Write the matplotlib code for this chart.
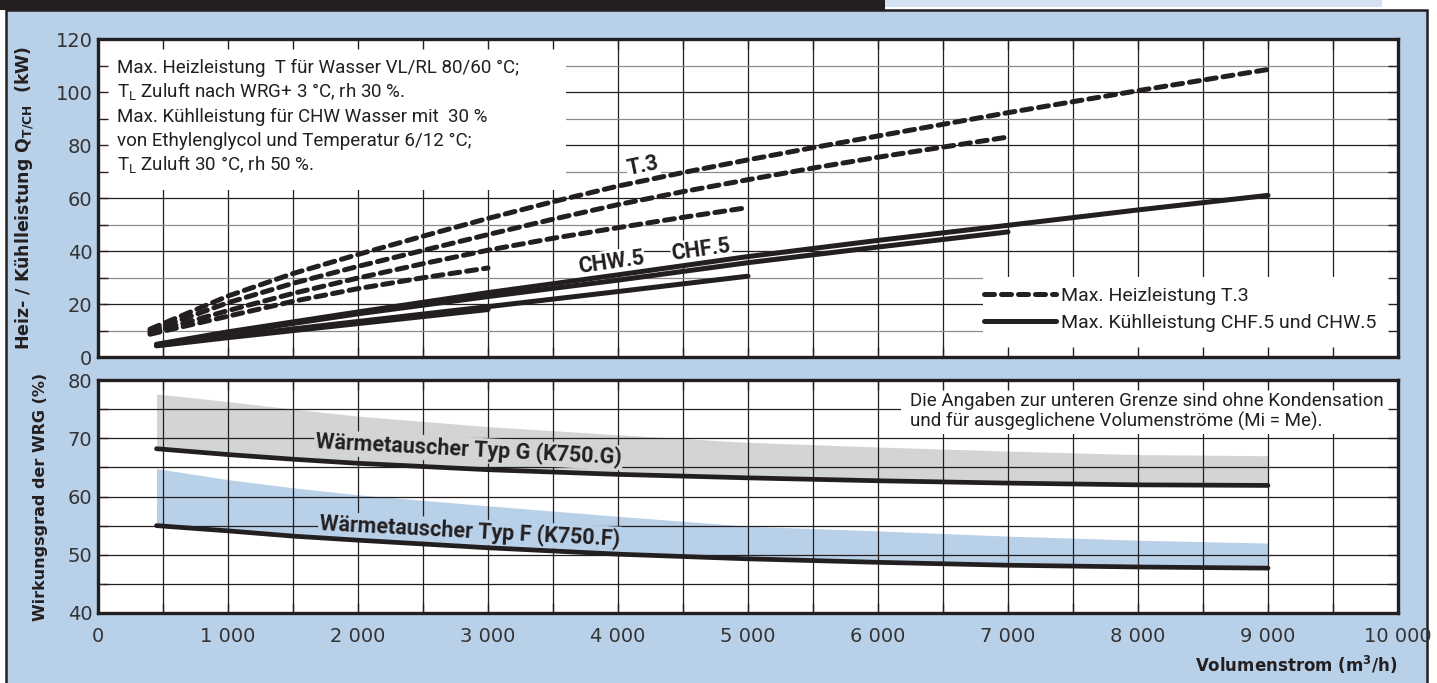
import matplotlib
matplotlib.use("Agg")
import matplotlib.pyplot as plt
from matplotlib.lines import Line2D
from matplotlib.patches import Rectangle
import numpy as np

# --- upper panel: max. heating (T.3, dashed) and cooling (CHF/CHW, solid), kW
heat_a_x = [400, 1000, 1500, 2000, 2500, 3000, 3500, 4000, 4500, 5000, 5500, 6000, 6500, 7000, 8000, 9000]
heat_a_y = [10.5, 23.0, 31.5, 38.7, 45.6, 52.3, 58.6, 64.5, 69.6, 74.4, 79.0, 83.4, 87.8, 92.2, 100.5, 108.5]
heat_b_x = [400, 1000, 1500, 2000, 2500, 3000, 3500, 4000, 4500, 5000, 5500, 6000, 6500, 7000]
heat_b_y = [9.8, 20.5, 27.8, 34.2, 40.2, 46.2, 52.0, 57.5, 62.4, 66.9, 71.3, 75.4, 79.2, 83.0]
heat_c_x = [400, 1000, 1500, 2000, 2500, 3000, 3500, 4000, 4500, 5000]
heat_c_y = [9.2, 17.5, 24.0, 29.8, 35.2, 40.3, 44.8, 48.8, 52.7, 56.4]
heat_d_x = [400, 1000, 1500, 2000, 2500, 3000]
heat_d_y = [8.6, 15.4, 21.0, 25.8, 29.9, 33.6]

cool_a_x = [450, 1000, 2000, 3000, 4000, 5000, 6000, 7000, 8000, 9000]
cool_a_y = [4.8, 9.5, 17.0, 24.3, 31.0, 37.9, 44.0, 49.7, 55.5, 61.0]
cool_b_x = [450, 1000, 2000, 3000, 4000, 5000, 6000, 7000]
cool_b_y = [4.6, 9.0, 16.3, 22.8, 29.0, 35.6, 41.5, 47.2]
cool_c_x = [450, 1000, 2000, 3000, 4000, 5000]
cool_c_y = [4.4, 7.8, 13.4, 19.0, 24.7, 30.5]
cool_d_x = [450, 1000, 2000, 3000]
cool_d_y = [4.2, 7.3, 12.6, 17.9]

# --- lower panel: heat recovery efficiency, %
eff_x = [450, 1000, 1500, 2000, 3000, 4000, 5000, 6000, 7000, 8000, 9000]
eff_g = [68.2, 67.2, 66.4, 65.7, 64.6, 63.8, 63.2, 62.7, 62.3, 62.0, 61.9]
eff_g_max = [77.6, 76.3, 75.0, 73.8, 72.0, 70.6, 69.3, 68.5, 67.8, 67.2, 67.0]
eff_f = [55.0, 54.1, 53.2, 52.5, 51.2, 50.1, 49.3, 48.7, 48.2, 47.9, 47.7]
eff_f_max = [64.8, 62.9, 61.5, 60.3, 58.4, 56.6, 54.9, 54.1, 53.2, 52.5, 52.0]

x_ticks = np.arange(0, 10001, 1000)
x_labels = ["0"] + [f"{v // 1000} 000" for v in x_ticks[1:]]

note_lines = [
    "Max. Heizleistung  T für Wasser VL/RL 80/60 °C;",
    "T$_\\mathregular{L}$ Zuluft nach WRG+ 3 °C, rh 30 %.",
    "Max. Kühlleistung für CHW Wasser mit  30 %",
    "von Ethylenglycol und Temperatur 6/12 °C;",
    "T$_\\mathregular{L}$ Zuluft 30 °C, rh 50 %.",
]
note_lower = ("Die Angaben zur unteren Grenze sind ohne Kondensation\n"
              "und für ausgeglichene Volumenströme (Mi = Me).")

INK = "#231f20"
BLUE = "#b9d0e9"
GREY = "#d3d4d6"
NARROW = ["Roboto", "DejaVu Sans"]

W, H = 1437, 683
fig = plt.figure(figsize=(W / 100, H / 100), dpi=100)

# page decoration: blue panel, header bars
fig.add_artist(Rectangle((6 / W, -0.01), 1421 / W, 1 - 10 / H + 0.01, transform=fig.transFigure,
                         fc=BLUE, ec=INK, lw=1.8, zorder=-2))
fig.add_artist(Rectangle((0, 1 - 10 / H), 885 / W, 10 / H, transform=fig.transFigure,
                         fc=INK, ec="none", zorder=-1))
fig.add_artist(Rectangle((885 / W, 1 - 7 / H), 497 / W, 7 / H, transform=fig.transFigure,
                         fc="#d3e1f1", ec="none", zorder=-1))

left, width = 98 / W, 1300 / W
ax1 = fig.add_axes([left, 1 - 357 / H, width, 318 / H])
ax2 = fig.add_axes([left, 1 - 613 / H, width, 233 / H])


def frame(ax, ymin, ymax, ystep, ylab_step, grey_rows=()):
    ax.set_xlim(0, 10000)
    ax.set_ylim(ymin, ymax)
    ax.set_axisbelow(False)
    for xv in np.arange(500, 10000, 500):
        ax.axvline(xv, color=INK, lw=0.9, zorder=0.5)
    for yv in np.arange(ymin + ystep, ymax, ystep):
        ax.axhline(yv, color="#8c8c8c" if yv in grey_rows else INK, lw=0.9, zorder=0.5)
    ax.set_xticks(x_ticks)
    ax.set_xticks(np.arange(500, 10000, 1000), minor=True)
    ax.set_yticks(np.arange(ymin, ymax + 1, ylab_step))
    ax.set_yticks(np.arange(ymin, ymax + 1, ystep), minor=True)
    ax.tick_params(which="both", direction="in", top=True, right=True, length=7,
                   width=1, color=INK, labelsize=14, labelcolor="#333333", pad=4)
    for s in ax.spines.values():
        s.set_linewidth(2.4)
        s.set_color(INK)


frame(ax1, 0, 120, 10, 20, grey_rows=(10, 30, 50, 70, 90, 110))
frame(ax2, 40, 80, 5, 10)
ax1.set_xticklabels([])
ax2.set_xticklabels(x_labels)
ax2.tick_params(axis="x", pad=10)

# --- upper panel
ax1.add_patch(Rectangle((0, 0.525), 0.36, 0.475, transform=ax1.transAxes,
                        fc="white", ec="none", zorder=1))
ax1.add_patch(Rectangle((0.681, 0), 0.319, 0.253, transform=ax1.transAxes,
                        fc="white", ec="none", zorder=1))

dash_kw = dict(color=INK, lw=3.6, dashes=(2.0, 1.4), dash_capstyle="round", zorder=3)
solid_kw = dict(color=INK, lw=3.6, solid_capstyle="round", zorder=3)
for hx, hy in [(heat_a_x, heat_a_y), (heat_b_x, heat_b_y), (heat_c_x, heat_c_y), (heat_d_x, heat_d_y)]:
    ax1.plot(hx, hy, **dash_kw)
for cx, cy in [(cool_a_x, cool_a_y), (cool_b_x, cool_b_y), (cool_c_x, cool_c_y), (cool_d_x, cool_d_y)]:
    ax1.plot(cx, cy, **solid_kw)

for i, line in enumerate(note_lines):
    ax1.text(0.0146, 0.909 - i * 0.0765, line, transform=ax1.transAxes, family=NARROW,
             fontsize=13.5, color=INK, va="center", ha="left", zorder=4)

lab_box = dict(fc="white", ec="none", pad=0.6)
ax1.text(4190, 72.2, "T.3", family=NARROW, weight="bold", fontsize=15.5, rotation=11.5,
         ha="center", va="center", color=INK, bbox=lab_box, zorder=2.8)
ax1.text(3945, 35.8, "CHW.5", family=NARROW, weight="bold", fontsize=15.5, rotation=8,
         ha="center", va="center", color=INK, bbox=lab_box, zorder=2.8)
ax1.text(4640, 40.4, "CHF.5", family=NARROW, weight="bold", fontsize=15.5, rotation=8,
         ha="center", va="center", color=INK, bbox=lab_box, zorder=2.8)

handles = [Line2D([], [], **dash_kw), Line2D([], [], **solid_kw)]
ax1.legend(handles, ["Max. Heizleistung T.3", "Max. Kühlleistung CHF.5 und CHW.5"],
           loc="lower right", bbox_to_anchor=(0.997, 0.025), frameon=False,
           prop=dict(family=NARROW, size=14), handlelength=3.7, handletextpad=0.25,
           labelspacing=0.45, labelcolor=INK)

ax1.set_ylabel("Heiz- / Kühlleistung $\\mathbf{Q}_{\\mathbf{T/CH}}$  (kW)", fontsize=12.5,
               weight="bold", color=INK, labelpad=14)

# --- lower panel
ax2.add_patch(Rectangle((0.618, 0.77), 0.382, 0.23, transform=ax2.transAxes,
                        fc="white", ec="none", zorder=1))
ax2.fill_between(eff_x, eff_g, eff_g_max, color=GREY, lw=0, zorder=0.4)
ax2.fill_between(eff_x, eff_f, eff_f_max, color=BLUE, lw=0, zorder=0.4)
ax2.plot(eff_x, eff_g, color=INK, lw=3.4, solid_capstyle="round", zorder=3)
ax2.plot(eff_x, eff_f, color=INK, lw=3.4, solid_capstyle="round", zorder=3)

ax2.text(2850, 68.0, "Wärmetauscher Typ G (K750.G)", family=NARROW, weight="bold",
         fontsize=15.5, rotation=-3, ha="center", va="center", color=INK,
         bbox=dict(fc=GREY, ec="none", pad=1.0), zorder=2.8)
ax2.text(2860, 54.0, "Wärmetauscher Typ F (K750.F)", family=NARROW, weight="bold",
         fontsize=15.5, rotation=-3, ha="center", va="center", color=INK,
         bbox=dict(fc=BLUE, ec="none", pad=1.0), zorder=2.8)
ax2.text(0.625, 0.865, note_lower, transform=ax2.transAxes, family=NARROW, fontsize=13.5,
         color=INK, ha="left", va="center", linespacing=1.15, zorder=4)

ax2.set_ylabel("Wirkungsgrad der WRG (%)", fontsize=11.5, weight="bold", color=INK, labelpad=14)
ax2.set_xlabel("Volumenstrom (m$^\\mathbf{3}$/h)", fontsize=12, weight="bold", color=INK,
               loc="right", labelpad=6)
fig.align_ylabels([ax1, ax2])

fig.savefig("out.png", dpi=100)
